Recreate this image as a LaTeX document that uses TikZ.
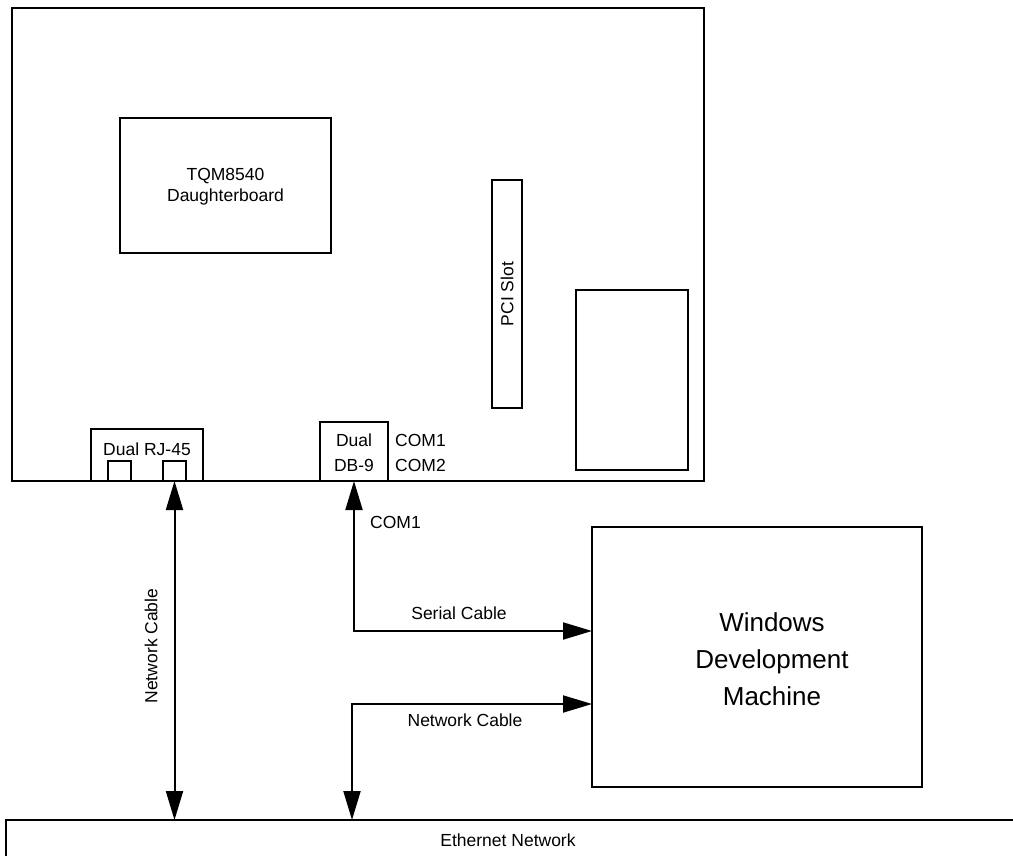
\documentclass[tikz,border=0pt]{standalone}
\usepackage{fontspec}
\setmainfont{Liberation Sans}
\usetikzlibrary{arrows.meta}
\begin{document}
\begin{tikzpicture}[x=1pt,y=-1pt,
  box/.style={draw,line width=2pt,inner sep=0pt,outer sep=0pt},
  lbl/.style={inner sep=0pt,font=\fontsize{17.5}{21}\selectfont,align=center},
  big/.style={inner sep=0pt,font=\fontsize{26}{37}\selectfont,align=center},
  cable/.style={line width=2pt,{Triangle[length=29pt,width=17pt]}-{Triangle[length=29pt,width=17pt]}},
  cableend/.style={line width=2pt,-{Triangle[length=29pt,width=17pt]}}]
\useasboundingbox (0,0) rectangle (1013,856);
% main board
\node[box,minimum width=692pt,minimum height=473pt] (board) at (358,244.5) {};
\node[box,minimum width=211pt,minimum height=135pt] (daughter) at (225.5,185.5) {};
\node[lbl] (dtext) at (225.5,187) {TQM8540\\Daughterboard};
\node[box,minimum width=30pt,minimum height=228pt] (pci) at (507,294) {};
\node[lbl,rotate=90] (pcitext) at (507,294) {PCI Slot};
\node[box,minimum width=112pt,minimum height=180pt] (blank) at (632,380) {};
% connectors on board
\node[box,minimum width=112pt,minimum height=52pt] (rj) at (147,455) {};
\node[lbl,anchor=base] (rjtext) at (147,455) {Dual RJ-45};
\node[box,minimum width=23pt,minimum height=20pt] (sq1) at (119.5,471) {};
\node[box,minimum width=23pt,minimum height=20pt] (sq2) at (174.5,471) {};
\node[box,minimum width=68pt,minimum height=59pt] (db) at (354,451.5) {};
\node[lbl,font=\fontsize{17.5}{24.5}\selectfont] (dbtext) at (354,452.5) {Dual\\DB-9};
\node[lbl,anchor=west] (com1) at (395,440) {COM1};
\node[lbl,anchor=west] (com2) at (395,465) {COM2};
% windows machine
\node[box,minimum width=330pt,minimum height=260pt] (win) at (757,657) {};
\node[big] (wintext) at (772,659) {Windows\\Development\\Machine};
% ethernet
\node[box,minimum width=1020pt,minimum height=60pt] (eth) at (516,850) {};
\node[lbl] (ethtext) at (508,840) {Ethernet Network};
% cables
\draw[cable] (sq2.south) -- (eth.north -| sq2.south);
\node[lbl,rotate=90] (nc1) at (151,646) {Network Cable};
\coordinate (sc) at (354,631);
\draw[cable] (db.south) -- (sc) -- (win.west |- sc);
\node[lbl,anchor=west] (com1b) at (370,522) {COM1};
\node[lbl] (sctext) at (459,613) {Serial Cable};
\coordinate (nc) at (352,704);
\draw[cable] (win.west |- nc) -- (nc) -- (eth.north -| nc);
\node[lbl] (nc2) at (465,720) {Network Cable};
\end{tikzpicture}
\end{document}
